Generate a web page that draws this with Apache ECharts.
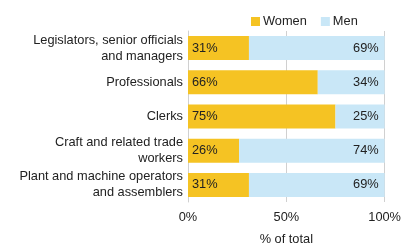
<!DOCTYPE html>
<html><head><meta charset="utf-8">
<script src="https://cdn.jsdelivr.net/npm/echarts@6/dist/echarts.min.js"></script>
<style>html,body{margin:0;padding:0;background:#fff}#c{width:404px;height:251px}</style>
</head><body><div id="c"></div>
<script>
var categories = ['Legislators, senior officials\nand managers','Professionals','Clerks','Craft and related trade\nworkers','Plant and machine operators\nand assemblers'];
var women = [31, 66, 75, 26, 31];
var men = [69, 34, 25, 74, 69];
var xTicks = [0, 50, 100];
var chart = echarts.init(document.getElementById('c'));
var font = 'Liberation Sans, Arial, sans-serif';
var fs = 12.8;
chart.setOption({
  animation: false,
  textStyle: {fontFamily: font},
  legend: {
    data: ['Women','Men'], top: 10, left: 246, itemWidth: 9, itemHeight: 9, itemGap: 14,
    textStyle: {fontSize: fs, color: '#222', fontFamily: font, padding: [0,0,0,-2]}, icon: 'rect'
  },
  grid: {left: 188, right: 15, top: 31, bottom: 46, containLabel: false},
  xAxis: {
    type: 'value', min: 0, max: 100, interval: 50,
    name: '% of total', nameLocation: 'middle', nameGap: 31,
    nameTextStyle: {fontSize: fs, color: '#222', fontFamily: font},
    axisLabel: {formatter: function(v){ return xTicks.indexOf(v) >= 0 ? v + '%' : ''; }, fontSize: fs, color: '#222', margin: 9, fontFamily: font},
    splitLine: {show: true, lineStyle: {color: '#d0d0d0', width: 1}},
    axisLine: {show: false}, axisTick: {show: false}
  },
  yAxis: {
    type: 'category', data: categories, inverse: true,
    axisLine: {show: true, lineStyle: {color: '#d0d0d0'}}, axisTick: {show: false},
    axisLabel: {fontSize: fs, color: '#222', margin: 5, lineHeight: 16, fontFamily: font}
  },
  series: [
    {name: 'Women', type: 'bar', stack: 't', data: women, barWidth: 24,
     itemStyle: {color: '#F5C323'},
     label: {show: true, position: 'insideLeft', formatter: '{c}%', fontSize: fs, color: '#222', distance: 4, fontFamily: font}},
    {name: 'Men', type: 'bar', stack: 't', data: men, barWidth: 24,
     itemStyle: {color: '#C9E7F7'},
     label: {show: true, position: 'insideRight', formatter: '{c}%', fontSize: fs, color: '#222', distance: 6, fontFamily: font}}
  ]
});
</script></body></html>
